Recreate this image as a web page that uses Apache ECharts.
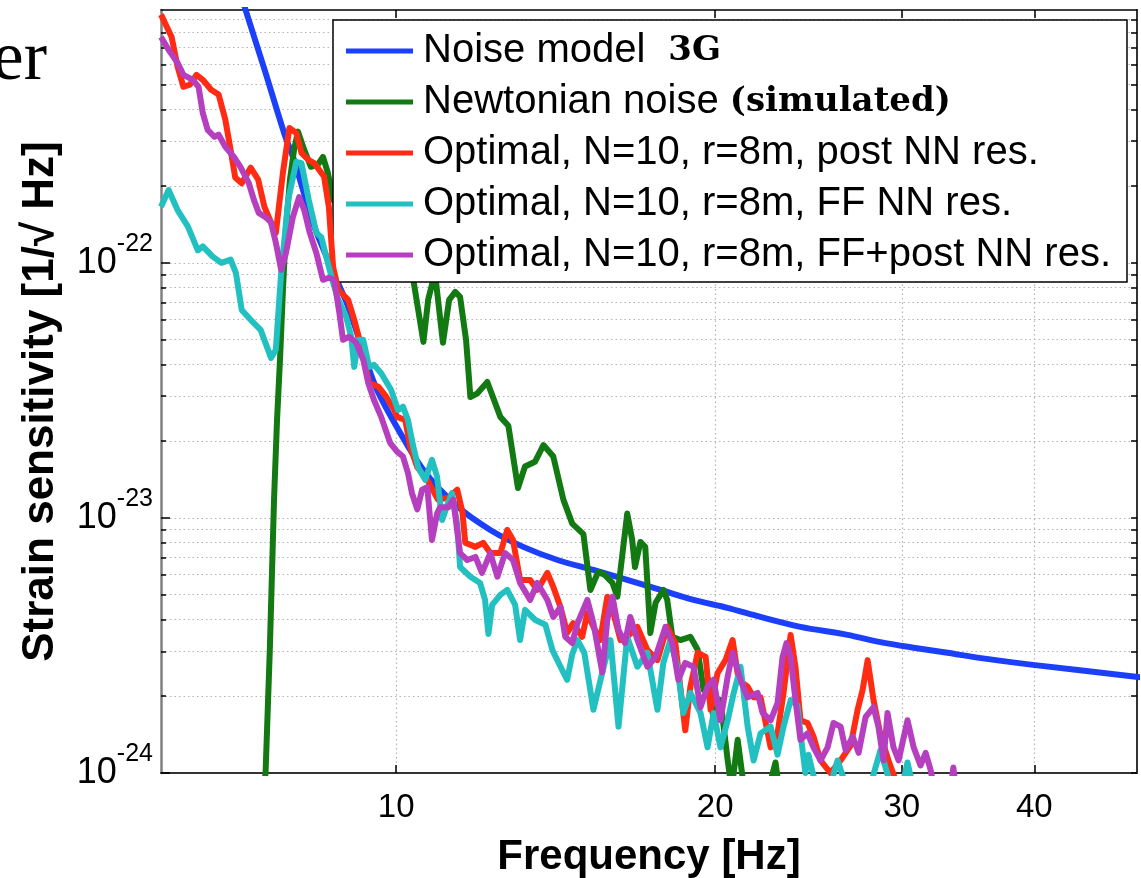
<!DOCTYPE html>
<html><head><meta charset="utf-8">
<script src="https://cdn.jsdelivr.net/npm/echarts@6/dist/echarts.min.js"></script>
<style>html,body{margin:0;padding:0;background:#fff}#c{width:1141px;height:878px}</style>
</head><body><div id="c"></div>
<script>
// Strain values are given in units of 1e-24 1/sqrt(Hz); frequency in Hz.
const UNIT_EXP = -24;
const xTickValues = [10, 20, 30, 40];
const yMajorValues = [1, 10, 100];
const yMinorValues = [2,3,4,5,6,7,8,9,20,30,40,50,60,70,80,90,200,300,400,500,600,700,800,900];
const seriesNames = [
  'Noise model 3G',
  'Newtonian noise (simulated)',
  'Optimal, N=10, r=8m, post NN res.',
  'Optimal, N=10, r=8m, FF NN res.',
  'Optimal, N=10, r=8m, FF+post NN res.'
];
const seriesColors = ['#1c40fa', '#137a13', '#ff2b12', '#22c0c0', '#b63fc0'];

const noiseModel3G = [[7.12,1170],[7.21,982],[7.52,566],[7.84,323],[8.01,253],[8.37,139],[8.68,96.4],[9.01,67.3],[9.53,33.9],[9.89,24.9],[10.61,15.4],[11.42,11.1],[12.27,8.97],[13.18,7.70],[14.2,6.84],[15.35,6.25],[16.52,5.71],[17.76,5.22],[19.08,4.77],[20.54,4.44],[22.07,4.09],[24.07,3.74],[26.66,3.48],[28.64,3.26],[30.78,3.10],[33.12,2.96],[35.64,2.82],[39.7,2.66],[50.1,2.38],[52,2.34]];

const newtonianNoise = [[7.48,0.8],[7.53,1.0],[7.60,3.04],[7.67,11.8],[7.72,24.2],[7.77,41.7],[7.82,78.4],[7.87,135],[7.94,212],[8.01,277],[8.08,327],[8.19,277],[8.31,238],[8.44,243],[8.53,260],[8.62,226],[8.72,177],[8.94,155],[9.25,193],[9.55,135],[9.98,161],[10.2,103],[10.38,85.8],[10.61,49.0],[10.72,71.6],[10.88,91.4],[11.07,48.6],[11.22,71.6],[11.37,76.9],[11.49,73.6],[11.64,49.9],[11.75,29.8],[11.92,30.7],[12.19,34.1],[12.54,24.9],[12.76,23.0],[13.03,13.1],[13.23,15.9],[13.52,16.6],[13.77,19.3],[14.07,17.4],[14.38,11.8],[14.66,9.5],[15.02,8.64],[15.25,5.22],[15.51,6.14],[15.74,5.97],[16.0,5.56],[16.17,4.91],[16.52,10.4],[16.7,8.2],[16.8,6.42],[17.0,8.05],[17.18,7.7],[17.37,3.54],[17.57,4.65],[17.87,5.22],[18.02,4.77],[18.22,3.42],[18.54,3.32],[18.95,3.42],[19.25,3.04],[19.5,2.12],[19.72,2.32],[19.93,1.61],[20.23,1.93],[20.55,1.12],[20.73,0.86],[21.0,1.35],[21.24,0.94],[21.51,0.78],[22.3,0.78],[22.8,1.10],[23.05,0.78]];

const postNNRes = [[6.0,940],[6.14,768],[6.22,588],[6.30,490],[6.39,500],[6.48,546],[6.57,522],[6.69,477],[6.80,457],[6.90,364],[6.98,277],[7.05,216],[7.15,205],[7.29,236],[7.41,212],[7.51,166],[7.62,144],[7.70,131],[7.82,226],[7.93,338],[8.05,323],[8.14,270],[8.27,253],[8.37,246],[8.55,218],[8.64,166],[8.72,96.4],[8.82,78.4],[9.01,71.6],[9.13,59.8],[9.27,46.9],[9.43,33.9],[9.62,32.7],[9.79,29.8],[9.96,26.5],[10.02,24.9],[10.2,24.2],[10.31,19.0],[10.47,15.8],[10.7,14.1],[10.95,11.8],[11.2,12.0],[11.42,12.9],[11.55,10.5],[11.62,7.99],[11.88,7.70],[12.08,7.99],[12.27,7.28],[12.54,7.28],[12.73,8.97],[12.89,8.20],[13.09,5.71],[13.38,5.71],[13.59,5.22],[13.89,6.09],[14.07,5.36],[14.29,4.47],[14.5,3.54],[14.69,3.87],[14.98,3.42],[15.15,4.24],[15.35,3.74],[15.58,3.32],[15.82,4.91],[16.03,4.24],[16.28,3.32],[16.52,3.42],[16.89,3.74],[17.26,3.04],[17.64,2.77],[18.02,3.74],[18.34,3.23],[18.74,1.47],[18.95,2.18],[19.25,2.96],[19.59,2.85],[19.8,1.77],[20.1,2.46],[20.45,2.77],[20.77,3.32],[21.04,2.32],[21.46,2.18],[21.74,1.98],[22.07,1.98],[22.56,1.26],[22.9,1.43],[23.2,2.06],[23.56,3.48],[23.81,2.60],[24.07,1.61],[24.44,1.57],[24.76,1.39],[25.14,1.12],[25.69,1.0],[26.26,1.12],[26.84,1.28],[27.25,1.77],[27.55,2.12],[27.85,2.77],[28.21,1.93],[28.64,1.41],[29.14,1.12],[29.59,0.94],[29.92,0.86]];

const ffNNRes = [[6.0,166],[6.10,193],[6.22,161],[6.36,139],[6.50,112],[6.57,116],[6.71,106],[6.84,100],[6.98,103],[7.06,91.4],[7.15,65.4],[7.29,59.8],[7.45,54.6],[7.62,42.4],[7.70,45.6],[7.79,91.4],[7.91,177],[8.05,249],[8.14,246],[8.27,177],[8.41,131],[8.50,126],[8.62,100],[8.72,83.5],[8.82,71.6],[8.97,61.4],[9.07,51.3],[9.13,39.1],[9.21,49.9],[9.31,49.9],[9.43,39.1],[9.53,39.8],[9.68,36.9],[9.89,31.8],[10.04,26.5],[10.15,27.3],[10.26,24.2],[10.38,19.0],[10.49,15.8],[10.65,14.1],[10.81,16.9],[10.93,14.5],[11.05,9.82],[11.19,11.4],[11.29,12.5],[11.42,9.4],[11.49,6.42],[11.75,5.88],[12.0,5.56],[12.13,4.77],[12.22,3.51],[12.32,4.56],[12.54,4.99],[12.73,5.22],[12.95,4.56],[13.09,3.32],[13.23,4.36],[13.53,3.98],[13.83,3.81],[14.04,3.04],[14.29,2.61],[14.5,2.32],[14.66,2.92],[14.83,3.32],[15.05,2.96],[15.35,1.77],[15.65,2.48],[15.93,3.32],[16.21,1.52],[16.52,3.42],[16.89,2.61],[17.26,2.96],[17.64,1.77],[17.87,2.70],[18.14,3.32],[18.42,2.61],[18.66,1.72],[18.95,2.06],[19.37,1.72],[19.67,1.26],[19.93,1.72],[20.23,1.26],[20.55,1.61],[20.82,2.06],[21.13,2.61],[21.46,1.52],[21.74,1.12],[22.07,1.43],[22.56,1.52],[22.9,1.18],[23.2,1.52],[23.56,1.93],[23.91,1.84],[24.07,1.43],[24.33,1.0],[24.49,1.18],[24.87,0.9],[25.69,0.9],[26.09,1.12],[26.55,0.9],[28.03,0.9],[28.64,1.23],[29.27,0.9],[30.05,0.9],[30.37,1.10],[30.7,0.9]];

const ffPostNNRes = [[6.0,768],[6.10,684],[6.22,608],[6.30,546],[6.43,522],[6.51,490],[6.57,387],[6.64,332],[6.74,312],[6.80,318],[6.90,285],[7.03,260],[7.13,238],[7.26,206],[7.34,177],[7.42,157],[7.53,151],[7.62,144],[7.70,120],[7.79,93.9],[7.87,109],[7.99,151],[8.10,181],[8.19,161],[8.29,131],[8.41,109],[8.53,85.8],[8.64,87.4],[8.74,85.8],[8.84,63.6],[8.91,49.9],[9.03,51.3],[9.17,48.6],[9.31,41.7],[9.41,33.9],[9.53,29.0],[9.68,24.9],[9.87,19.7],[10.02,18.2],[10.15,17.4],[10.26,15.0],[10.35,12.5],[10.47,10.8],[10.58,12.9],[10.7,13.2],[10.81,8.20],[10.93,10.4],[11.0,11.0],[11.2,11.0],[11.32,11.8],[11.49,7.28],[11.67,6.84],[11.88,7.03],[12.05,6.09],[12.27,7.28],[12.46,5.88],[12.67,7.28],[12.89,6.84],[13.09,5.56],[13.38,4.77],[13.59,5.56],[13.89,4.77],[14.07,4.09],[14.29,4.47],[14.44,3.42],[14.66,3.23],[14.83,3.87],[15.15,4.77],[15.35,3.87],[15.65,2.48],[15.82,3.98],[16.0,4.91],[16.21,3.64],[16.44,3.23],[16.63,4.09],[16.89,3.32],[17.26,2.61],[17.57,2.85],[17.95,3.74],[18.22,3.23],[18.46,2.32],[18.74,2.70],[19.08,2.61],[19.37,1.81],[19.67,2.18],[19.93,2.32],[20.23,1.61],[20.55,2.39],[20.77,2.96],[21.13,2.32],[21.46,1.98],[21.93,2.06],[22.17,1.72],[22.56,1.61],[22.9,1.88],[23.15,2.85],[23.35,3.23],[23.56,2.85],[23.81,1.93],[24.07,1.35],[24.44,1.43],[24.76,1.26],[25.14,1.12],[25.53,1.26],[25.86,1.57],[26.26,1.52],[26.55,1.23],[26.96,1.39],[27.31,1.20],[27.73,1.66],[28.21,1.81],[28.51,1.52],[28.83,1.12],[29.08,1.72],[29.46,1.26],[29.79,1.12],[30.37,1.61],[30.78,1.26],[31.24,1.07],[31.59,1.20],[31.93,1.03],[32.2,0.86],[33.35,0.86],[33.55,1.05],[33.75,0.86]];

const seriesData = [noiseModel3G, newtonianNoise, postNNRes, ffNNRes, ffPostNNRes];

const X_MIN = 6, X_MAX = 50, Y_MIN = 1, Y_MAX = 980;
const SANS = 'Liberation Sans';
const gridLine = {show: true, lineStyle: {color: '#b4b4b4', width: 1.2, type: [1.5, 3]}};

const chart = echarts.init(document.getElementById('c'), null, {renderer: 'canvas'});
const option = {
  animation: false,
  backgroundColor: '#fff',
  grid: {left: 161, right: 4, top: 10, bottom: 105, containLabel: false, outerBoundsMode: 'none'},
  graphic: [{
    type: 'text', x: 47, y: 96,
    style: {text: 'er', fontFamily: 'Liberation Serif', fontSize: 70, fill: '#000', align: 'right', verticalAlign: 'bottom'}
  }],
  legend: {
    show: true,
    orient: 'vertical',
    left: 333, top: 20,
    data: seriesNames,
    icon: 'rect',
    itemWidth: 67, itemHeight: 5,
    itemGap: 11,
    padding: [11, 16, 7, 13],
    backgroundColor: '#fff',
    borderColor: '#000', borderWidth: 1.5,
    selectedMode: false,
    formatter: function (n) {
      if (n === seriesNames[0]) return '{a|Noise model }{b| 3G}';
      if (n === seriesNames[1]) return '{a|Newtonian noise }{b|(simulated)}';
      return '{a|' + n + '}';
    },
    textStyle: {
      fontFamily: SANS, fontSize: 40, color: '#000',
      padding: [0, 0, 0, 5],
      rich: {
        a: {fontFamily: SANS, fontSize: 40, color: '#000'},
        b: {fontFamily: 'DejaVu Serif', fontWeight: 'bold', fontSize: 34, color: '#000'}
      }
    }
  },
  xAxis: [{
    type: 'log', logBase: 10, min: X_MIN, max: X_MAX, position: 'bottom',
    name: 'Frequency [Hz]', nameLocation: 'middle', nameGap: 63,
    nameTextStyle: {fontFamily: SANS, fontWeight: 'bold', fontSize: 42, color: '#000'},
    axisLine: {show: true, lineStyle: {color: '#333', width: 2}},
    axisTick: {show: true, inside: true, length: 8, customValues: xTickValues, lineStyle: {color: '#000', width: 1.5}},
    axisLabel: {show: true, customValues: xTickValues, margin: 18, fontFamily: SANS, fontSize: 33, color: '#000',
      formatter: v => String(Math.round(v))},
    splitLine: gridLine,
    minorTick: {show: false}, minorSplitLine: {show: false}
  }, {
    type: 'log', logBase: 10, min: X_MIN, max: X_MAX, position: 'top',
    axisLine: {show: true, lineStyle: {color: '#000', width: 1.5}},
    axisTick: {show: true, inside: true, length: 8, customValues: xTickValues, lineStyle: {color: '#000', width: 1.5}},
    axisLabel: {show: false},
    splitLine: {show: false}
  }],
  yAxis: [{
    type: 'log', logBase: 10, min: Y_MIN, max: Y_MAX, position: 'left',
    name: 'Strain sensitivity [1/\u221A Hz]', nameLocation: 'middle', nameGap: 98, nameRotate: 90,
    nameTextStyle: {fontFamily: SANS, fontWeight: 'bold', fontSize: 44, color: '#000', padding: [0, 20, 0, 0]},
    axisLine: {show: true, lineStyle: {color: '#808080', width: 2.5}},
    axisTick: {show: true, inside: true, length: 9, customValues: yMajorValues, lineStyle: {color: '#000', width: 1.5}},
    axisLabel: {show: true, customValues: yMajorValues, margin: 8, fontFamily: SANS, fontSize: 36, color: '#000',
      formatter: v => '{b|10}{s|' + (Math.round(Math.log10(v)) + UNIT_EXP) + '}',
      rich: {
        b: {fontFamily: SANS, fontSize: 36, color: '#000', lineHeight: 62, verticalAlign: 'middle'},
        s: {fontFamily: SANS, fontSize: 25, color: '#000', lineHeight: 25, verticalAlign: 'top'}
      }
    },
    splitLine: {show: false}
  }, {
    type: 'log', logBase: 10, min: Y_MIN, max: Y_MAX, position: 'left',
    axisLine: {show: false},
    axisTick: {show: true, inside: true, length: 5, customValues: yMinorValues.concat(yMajorValues), lineStyle: {color: '#000', width: 1.5}},
    axisLabel: {show: false},
    splitLine: gridLine
  }, {
    type: 'log', logBase: 10, min: Y_MIN, max: Y_MAX, position: 'right',
    axisLine: {show: true, lineStyle: {color: '#333', width: 2}},
    axisTick: {show: true, inside: true, length: 6, customValues: yMajorValues.concat(yMinorValues), lineStyle: {color: '#000', width: 1.5}},
    axisLabel: {show: false},
    splitLine: {show: false}
  }],
  series: seriesNames.map((name, i) => ({
    name: name,
    type: 'line',
    xAxisIndex: 0, yAxisIndex: 0,
    data: seriesData[i],
    showSymbol: false, symbol: 'none',
    clip: true,
    smooth: i === 0 ? 0.3 : false,
    lineStyle: {color: seriesColors[i], width: 6, join: 'round'},
    itemStyle: {color: seriesColors[i]},
    z: 2 + i
  }))
};
chart.setOption(option);
</script></body></html>
